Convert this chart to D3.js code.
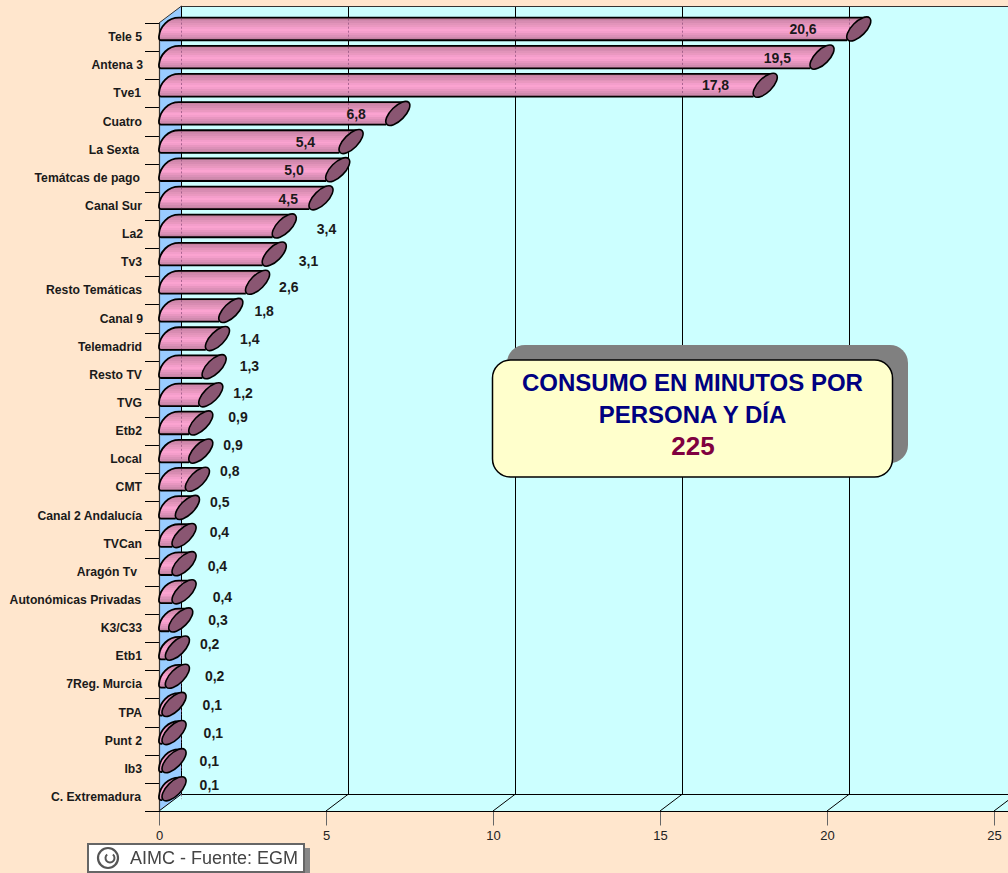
<!DOCTYPE html>
<html><head><meta charset="utf-8">
<script src="https://cdn.jsdelivr.net/npm/d3@7/dist/d3.min.js"></script>
<style>html,body{margin:0;padding:0;background:#ffe6cd;overflow:hidden}svg{display:block}text{font-family:"Liberation Sans",Arial,sans-serif}</style>
</head><body><svg id="c" width="1008" height="873"></svg>
<script>
const categories = ["Tele 5","Antena 3","Tve1","Cuatro","La Sexta","Temátcas de pago","Canal Sur","La2","Tv3","Resto Temáticas","Canal 9","Telemadrid","Resto TV","TVG","Etb2","Local","CMT","Canal 2 Andalucía","TVCan","Aragón Tv","Autonómicas Privadas","K3/C33","Etb1","7Reg. Murcia","TPA","Punt 2","Ib3","C. Extremadura"];
const values = [20.6,19.5,17.8,6.8,5.4,5.0,4.5,3.4,3.1,2.6,1.8,1.4,1.3,1.2,0.9,0.9,0.8,0.5,0.4,0.4,0.4,0.3,0.2,0.2,0.1,0.1,0.1,0.1];
const xTicks = [0,5,10,15,20,25];
const titleLines = ["CONSUMO EN MINUTOS POR","PERSONA Y DÍA"];
const totalText = "225";
const sourceText = "AIMC - Fuente: EGM";
// hand placement of the data labels relative to each bar end / row centre
const labelDx = [-44,-33,-38,-30,-34,-32,-21,54,46,43,45,44,47,44,49,44,44,44,47,45,50,49,44,49,50,51,47,47];
const labelDy = [-8,-7,-8,-8,-8,-8,-7,-5,-1,-3,-8,-8,-9,-10,-14,-14,-16,-14,-12,-6,-3,-8,-12,-8,-8,-8,-8,-12];
const catDx = [0,1,-1,0,-3,-2,0,1,0,0,1,0,0,0,0,0,0,0,0,-5,-1,0,0,0,0,0,0,-1];

const svg = d3.select("#c");
const x = d3.scaleLinear().domain([0,25]).range([159,994]);
const y = d3.scaleBand().domain(categories).range([23,811]);
const depthX = 22.5, depthY = 17;
const axisY = 811, topY = 23, barDepth = 23;

// gradient of the bars: pale banding, about two pixels per band
const bandCols = ["#c6829f","#d088ac","#d88cb2","#e294ba","#ea98c0","#f49ecb","#fba3d0","#f49ecb","#e896c0","#dc90b8","#d08aae","#c682a4"];
const grad = svg.append("defs").append("linearGradient").attr("id","barG").attr("x1",0).attr("y1",0).attr("x2",0).attr("y2",1);
bandCols.forEach((c,i)=>{
  grad.append("stop").attr("offset",i/bandCols.length).attr("stop-color",c);
  grad.append("stop").attr("offset",(i+1)/bandCols.length).attr("stop-color",c);
});
svg.select("defs").append("filter").attr("id","soft").append("feGaussianBlur").attr("stdDeviation",0.6);

const x0 = x(0);
// back wall, side wall, floor
svg.append("path").attr("d",`M${x0+depthX},${topY-depthY}H1030V${axisY-depthY}H${x0+depthX}Z`).attr("fill","#ccffff");
svg.append("path").attr("d",`M${x0},${axisY}H1030L1030,${axisY-depthY}H${x0+depthX}Z`).attr("fill","#ccffff");
svg.append("path").attr("d",`M${x0},${topY}L${x0+depthX},${topY-depthY}V${axisY-depthY}L${x0},${axisY}Z`).attr("fill","#99ccff");

// grid
svg.append("g").selectAll("line").data(xTicks).join("line")
  .attr("x1",d=>x(d)+depthX).attr("x2",d=>x(d)+depthX).attr("y1",topY-depthY).attr("y2",axisY-depthY)
  .attr("stroke","#000").attr("stroke-width",1);
svg.append("g").selectAll("line").data(xTicks).join("line")
  .attr("x1",d=>x(d)).attr("x2",d=>x(d)+depthX).attr("y1",axisY).attr("y2",axisY-depthY)
  .attr("stroke","#000").attr("stroke-width",1);
svg.append("line").attr("x1",x0+depthX).attr("x2",1008).attr("y1",topY-depthY+.5).attr("y2",topY-depthY+.5).attr("stroke","#333").attr("stroke-width",1.2);
svg.append("line").attr("x1",x0+depthX).attr("x2",1008).attr("y1",axisY-depthY+.5).attr("y2",axisY-depthY+.5).attr("stroke","#000");
svg.append("line").attr("x1",x0).attr("x2",x0+depthX).attr("y1",topY).attr("y2",topY-depthY).attr("stroke","#333");

// axes
const gx = svg.append("g").attr("transform",`translate(0,${axisY+.5})`)
  .call(d3.axisBottom(x).tickValues(xTicks).tickSize(14).tickPadding(5));
gx.select(".domain").remove();
svg.append("line").attr("x1",x0).attr("x2",1008).attr("y1",axisY+.5).attr("y2",axisY+.5).attr("stroke","#000");
gx.selectAll("line").attr("stroke","#666");
gx.selectAll("text").attr("font-size",13).attr("fill","#222").style("font-family",'"Liberation Sans",Arial,sans-serif');

// category ticks (at band edges) and labels
svg.append("g").selectAll("line").data(categories.concat(["_end"])).join("line")
  .attr("x1",145).attr("x2",x0)
  .attr("y1",(d,i)=>Math.round(y.range()[0]+y.step()*i)+.5).attr("y2",(d,i)=>Math.round(y.range()[0]+y.step()*i)+.5)
  .attr("stroke","#000");
svg.append("line").attr("x1",x0+.5).attr("x2",x0+.5).attr("y1",topY).attr("y2",axisY).attr("stroke","#333").attr("stroke-width",1.2);
svg.append("g").selectAll("text").data(categories).join("text")
  .attr("x",(d,i)=>142+catDx[i]).attr("y",d=>y(d)+y.bandwidth()/2+4)
  .attr("text-anchor","end").attr("font-size",12.2).attr("font-weight","bold").attr("fill","#1a1a1a").text(d=>d);

// bars
const rows = categories.map((c,i)=>({c,v:values[i],i}));
const gb = svg.append("g");
rows.forEach(r=>{
  const yc = y(r.c)+y.bandwidth()/2;
  const b = yc+3.2, t = yc-19.4, xe = x(r.v);
  const g = gb.append("g");
  const topEnd = Math.max(xe+barDepth-5, x0+19);
  g.append("path")
    .attr("d",`M${x0},${b}L${xe},${b}L${topEnd},${t}L${x0+20},${t}C${x0+9},${t} ${x0+1},${t+9} ${x0},${b-4}Z`)
    .attr("fill","url(#barG)").attr("stroke","none");
  g.append("path")
    .attr("d",`M${xe},${b}L${x0+2},${b}C${x0-.5},${b} ${x0},${b-3} ${x0},${b-4}C${x0+1},${t+9} ${x0+9},${t} ${x0+20},${t}L${topEnd},${t}`)
    .attr("fill","none").attr("stroke","#000").attr("stroke-width",1.8);
  // back-wall grid shows faintly through the tube
  xTicks.filter(k=>x(k) < xe-1).forEach(k=>{
    g.append("line").attr("x1",x(k)+depthX).attr("x2",x(k)+depthX).attr("y1",t+1).attr("y2",b-1)
      .attr("stroke","#8a4a78").attr("stroke-opacity",.7).attr("stroke-dasharray","2,2").attr("stroke-width",1);
  });
  g.append("ellipse").attr("cx",xe+11.7).attr("cy",(b+t)/2).attr("rx",15.5).attr("ry",7)
    .attr("transform",`rotate(-45 ${xe+11.7} ${(b+t)/2})`)
    .attr("fill","#8a5672").attr("stroke","#000").attr("stroke-width",1.6);
});

// data labels
svg.append("g").selectAll("text").data(rows).join("text")
  .attr("x",d=>x(d.v)+labelDx[d.i]).attr("y",d=>y(d.c)+y.bandwidth()/2+labelDy[d.i]+5)
  .attr("text-anchor","middle").attr("font-size",14).attr("font-weight","bold").attr("fill","#1a1a1a")
  .text(d=>d3.format(".1f")(d.v).replace(".",","));

// title box
svg.append("rect").attr("x",507).attr("y",345).attr("width",401).attr("height",118).attr("rx",18).attr("fill","#808080");
svg.append("rect").attr("x",492.5).attr("y",360).attr("width",400).attr("height",117).attr("rx",18).attr("fill","#ffffcc").attr("stroke","#000").attr("stroke-width",1.5);
svg.append("g").selectAll("text").data(titleLines).join("text")
  .attr("x",692.5).attr("y",(d,i)=>391+i*32).attr("text-anchor","middle").attr("font-size",24).attr("font-weight","bold").attr("fill","#000080").text(d=>d);
svg.append("text").attr("x",693).attr("y",455).attr("text-anchor","middle").attr("font-size",26).attr("font-weight","bold").attr("fill","#800040").text(totalText);

// source stamp
svg.append("rect").attr("x",92).attr("y",848).attr("width",218).attr("height",25).attr("fill","#888");
svg.append("rect").attr("x",88).attr("y",844).attr("width",216).attr("height",28).attr("fill","#fff").attr("stroke","#666").attr("stroke-width",2);
const st = svg.append("g").attr("filter","url(#soft)");
st.append("circle").attr("cx",108).attr("cy",858).attr("r",10).attr("fill","none").attr("stroke","#555").attr("stroke-width",2.2);
st.append("path").attr("d",d3.arc()({innerRadius:3.5,outerRadius:5.5,startAngle:0.7,endAngle:5.6})).attr("transform","translate(110,858)").attr("fill","#555");
st.append("text").attr("x",130).attr("y",864).attr("font-size",18).attr("fill","#444").text(sourceText);
</script></body></html>
